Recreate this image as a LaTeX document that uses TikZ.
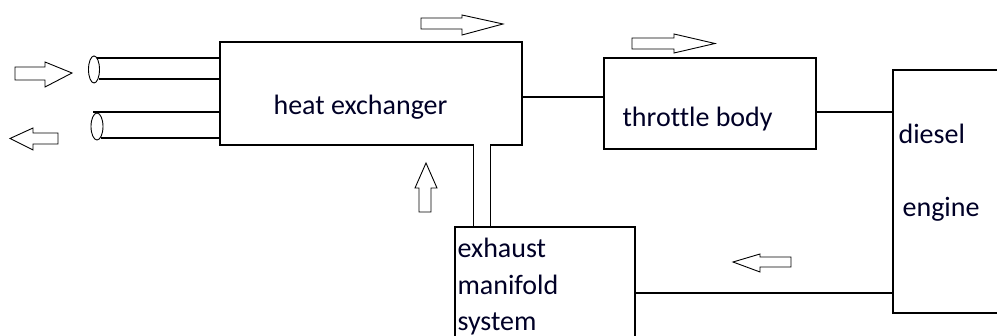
\documentclass[tikz,border=0pt]{standalone}
\usepackage{fontspec}
\setmainfont{Carlito}[Ligatures=NoCommon]
\usetikzlibrary{shapes.geometric}
\begin{document}
\begin{tikzpicture}[x=1pt,y=-1pt,line width=1.2pt,
  box/.style={draw,rectangle,inner sep=0pt},
  lbl/.style={inner sep=0pt,anchor=base west,font=\fontsize{28}{37}\selectfont,text=black!85!blue},
  blockarrow/.style={draw,line width=0.9pt,line join=miter},
  wire/.style={draw}]
\useasboundingbox (0,0) rectangle (997,336);
% boxes
\node[box,minimum width=302pt,minimum height=103pt] (he) at (371,93.5) {};
\node[box,minimum width=212pt,minimum height=91pt] (tb) at (710,103.5) {};
\node[box,minimum width=120pt,minimum height=243pt] (eng) at (953,191.5) {};
\node[box,minimum width=180pt,minimum height=123pt] (ex) at (545,288.5) {};
% labels
\node[lbl] (helbl) at (273,115) {heat exchanger};
\node[lbl] (tblbl) at (622,127) {throttle body};
\node[lbl] (eng1) at (898,144) {diesel};
\node[lbl] (eng2) at (902,217) {engine};
\node[lbl] (ex1) at (457,258) {exhaust};
\node[lbl] (ex2) at (457,295) {manifold};
\node[lbl] (ex3) at (457,331) {system};
% connectors
\draw[wire] (he.east |- 0,97) -- (tb.west |- 0,97);
\draw[wire] (tb.east |- 0,112) -- (eng.west |- 0,112);
\draw[wire] (ex.east |- 0,293) -- (eng.west |- 0,293);
% exhaust pipe into heat exchanger
\coordinate (pl) at (473.5,145);
\coordinate (pr) at (490.5,145);
\fill[white] (474.2,143) rectangle (489.8,147);
\draw[wire] (pl) -- (pl |- ex.north);
\draw[wire] (pr) -- (pr |- ex.north);
% pipes on the left
\coordinate (p1a) at (97,58);
\coordinate (p1b) at (99,79);
\coordinate (p2a) at (93,112);
\coordinate (p2b) at (101,138);
\draw[wire] (p1a) -- (p1a -| he.west);
\draw[wire] (p1b) -- (p1b -| he.west);
\draw[wire] (p2a) -- (p2a -| he.west);
\draw[wire] (p2b) -- (p2b -| he.west);
\draw[line width=0.9pt] (94,69.5) ellipse [x radius=5.5pt, y radius=13.5pt];
\draw[line width=0.9pt] (97,126.5) ellipse [x radius=6pt, y radius=13.5pt];
% block arrows
\draw[blockarrow] (15,67) -- (45,67) -- (45,62) -- (72,73) -- (45,87) -- (45,80) -- (15,80) -- cycle;
\draw[blockarrow] (58,133) -- (33,133) -- (33,128) -- (10,138.5) -- (33,150) -- (33,144) -- (58,144) -- cycle;
\draw[blockarrow] (421,18) -- (462,18) -- (462,15) -- (503,24) -- (462,35) -- (462,29) -- (421,29) -- cycle;
\draw[blockarrow] (632,38) -- (674,38) -- (674,34) -- (715,43.5) -- (674,53) -- (674,49) -- (632,49) -- cycle;
\draw[blockarrow] (419,212) -- (419,188) -- (415,188) -- (426,163) -- (437,188) -- (431,188) -- (431,212) -- cycle;
\draw[blockarrow] (791,257) -- (760,257) -- (760,254) -- (733,262) -- (760,272) -- (760,267) -- (791,267) -- cycle;
\end{tikzpicture}
\end{document}
